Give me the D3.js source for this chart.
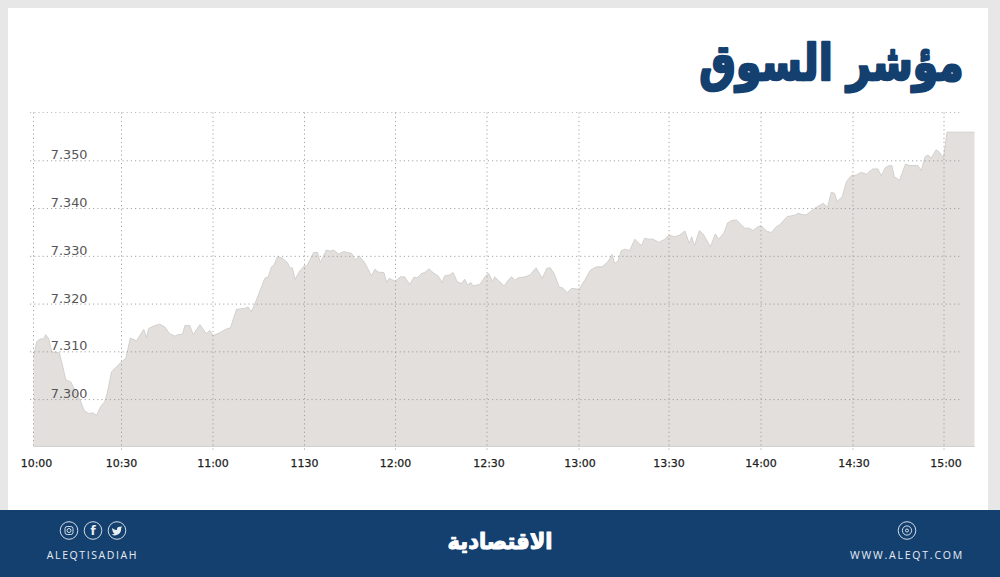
<!DOCTYPE html>
<html><head><meta charset="utf-8">
<script src="https://cdn.jsdelivr.net/npm/d3@7/dist/d3.min.js"></script>
<style>html,body{margin:0;padding:0;background:#e7e7e7;overflow:hidden}svg{display:block}</style>
</head><body><svg id="c" width="1000" height="577"></svg>
<script>
const titleText = "مؤشر السوق";
const logoText = "الاقتصادية";
const handleText = "ALEQTISADIAH";
const siteText = "WWW.ALEQT.COM";
const xTickMinutes = [0,30,60,90,120,150,180,210,240,270,300];
const xTickLabels = ["10:00","10:30","11:00","1130","12:00","12:30","13:00","13:30","14:00","14:30","15:00"];
const yTicks = [7.30,7.31,7.32,7.33,7.34,7.35];
const minutes = [0,1.1,2.3,3.4,4.2,5.2,6.2,8.8,10,11,12.7,15,15.9,17.2,18.7,20.4,21.5,22.9,24.3,25.1,26.6,28.3,30,31.4,32.9,34.9,37.3,38.2,38.9,40.9,42.5,44.2,45.8,47.5,48.5,50,50.8,52.4,53.5,55.7,57.8,58.9,60,62.2,64.4,65.7,67.7,70.4,71.5,72.6,74.2,77,78.1,79.2,80,81.1,82.5,84.4,85.3,86,86.9,88.5,89.9,90.8,93,94.3,95.2,97.2,98.5,99.6,101.2,102.9,105.6,106.7,108,110,112.1,113.2,114.3,116.2,117.1,117.9,119.2,120,121.6,123,124.7,126,127.1,128.5,129.6,131,132.3,134,135.3,136.1,137.8,138.9,140.2,141.6,142.7,143.6,144.7,145.4,147.6,149.8,150.6,151.8,152.5,153.6,155.6,156.9,158,159.1,160.2,162.4,164,166,168,169.5,170.6,171.9,173.6,174.6,176.2,177.6,180,181.9,183.8,185.8,187.7,189.7,191,191.9,193,194.1,195.2,196.9,198.6,200.8,201.9,203,204.7,206.6,208.6,210,212,213.6,215.2,216.6,217.4,218.3,219.9,221.3,223.5,225.1,226.2,228,229.1,230.5,232,234.7,236.1,237.4,239,240,242,243.4,245,246.1,248.5,251,252.1,253.7,254.8,257.6,260.3,261.7,262.9,264,264.8,266.5,267.9,269.5,271,272.7,274.4,276.5,278.2,279.3,280.7,282,282.8,283.6,285.3,287.3,288.6,291.4,292.5,293.8,294.7,295.8,297.4,298.5,299.8,301,310];
const values = [7.3090,7.3121,7.3127,7.3127,7.3136,7.3127,7.3100,7.3098,7.3069,7.3041,7.3037,7.3009,7.2999,7.2978,7.2971,7.2972,7.2967,7.2985,7.2996,7.3013,7.3058,7.3069,7.3079,7.3086,7.3129,7.3123,7.3147,7.3130,7.3149,7.3155,7.3158,7.3152,7.3138,7.3133,7.3136,7.3137,7.3155,7.3155,7.3136,7.3157,7.3138,7.3145,7.3134,7.3140,7.3148,7.3150,7.3189,7.3191,7.3194,7.3184,7.3208,7.3254,7.3257,7.3278,7.3282,7.3299,7.3297,7.3287,7.3275,7.3276,7.3252,7.3270,7.3280,7.3280,7.3308,7.3308,7.3287,7.3313,7.3311,7.3313,7.3305,7.3310,7.3306,7.3292,7.3301,7.3285,7.3259,7.3273,7.3267,7.3266,7.3245,7.3254,7.3250,7.3248,7.3257,7.3257,7.3241,7.3256,7.3255,7.3264,7.3266,7.3274,7.3266,7.3259,7.3245,7.3259,7.3261,7.3266,7.3247,7.3243,7.3252,7.3240,7.3245,7.3238,7.3241,7.3261,7.3264,7.3247,7.3257,7.3250,7.3238,7.3250,7.3257,7.3250,7.3255,7.3257,7.3261,7.3276,7.3254,7.3275,7.3276,7.3264,7.3235,7.3234,7.3224,7.3233,7.3231,7.3250,7.3271,7.3278,7.3278,7.3289,7.3304,7.3285,7.3290,7.3312,7.3315,7.3312,7.3336,7.3322,7.3338,7.3336,7.3336,7.3329,7.3336,7.3344,7.3341,7.3345,7.3353,7.3327,7.3341,7.3322,7.3354,7.3345,7.3320,7.3347,7.3336,7.3350,7.3370,7.3375,7.3376,7.3359,7.3359,7.3354,7.3362,7.3364,7.3352,7.3350,7.3362,7.3366,7.3383,7.3386,7.3390,7.3387,7.3387,7.3401,7.3411,7.3403,7.3434,7.3432,7.3415,7.3425,7.3457,7.3469,7.3470,7.3476,7.3472,7.3483,7.3483,7.3469,7.3486,7.3490,7.3490,7.3467,7.3459,7.3493,7.3490,7.3490,7.3480,7.3509,7.3512,7.3506,7.3523,7.3518,7.3506,7.3560,7.3560];
const baseValue = 7.2902;

const svg = d3.select("#c");
svg.append("rect").attr("width",1000).attr("height",577).attr("fill","#e7e7e7");
svg.append("rect").attr("x",8).attr("y",8).attr("width",980).attr("height",502).attr("fill","#fff");

const x = d3.scaleLinear().domain([...xTickMinutes,310])
  .range([33.5,121.5,213,304.5,395.5,487,579,669,761,853,944,974.5]);
const y = d3.scaleLinear().domain([7.30,7.35]).range([399.6,160.8]);

const area = d3.area().x((d,i)=>x(minutes[i])).y0(y(baseValue)).y1((d)=>y(d));
svg.append("path").attr("d",area(values)).attr("fill","#e2dfdd");
const line = d3.line().x((d,i)=>x(minutes[i])).y(d=>y(d));
svg.append("path").attr("d",line(values)).attr("fill","none").attr("stroke","#cbc9c7").attr("stroke-width",0.8);
svg.append("line").attr("x1",x(0)).attr("x2",x(310)).attr("y1",y(baseValue)).attr("y2",y(baseValue)).attr("stroke","#cfcdcb").attr("stroke-width",1);

const grid = svg.append("g").attr("fill","none").attr("stroke","#9a9a9a").attr("stroke-width",0.9).attr("stroke-dasharray","1.2 3");
grid.append("line").attr("x1",30).attr("x2",962).attr("y1",112.5).attr("y2",112.5).attr("stroke-opacity",.7);
yTicks.forEach(v=>grid.append("line").attr("x1",30).attr("x2",962).attr("y1",y(v)).attr("y2",y(v)));
xTickMinutes.forEach((m,i)=>grid.append("line").attr("x1",x(m)).attr("x2",x(m)).attr("y1",112.5).attr("y2",i===0?y(baseValue):451));

const font = "'DejaVu Sans',sans-serif";
svg.append("g").selectAll("text").data(yTicks).join("text")
  .attr("x",87.5).attr("y",d=>y(d)-1.5).attr("text-anchor","end")
  .attr("font-family",font).attr("font-size",12.8).attr("fill","#555")
  .text(d=>d3.format(".3f")(d));
svg.append("g").selectAll("text").data(xTickLabels).join("text")
  .attr("x",(d,i)=>x(xTickMinutes[i])+[3,0,0,0,0,2,1,0,0,1,2][i]).attr("y",467).attr("text-anchor","middle")
  .attr("font-family",font).attr("font-size",11).attr("font-weight",500).attr("fill","#222")
  .attr("stroke","#222").attr("stroke-width",0.25)
  .text(d=>d);

// Arabic wordmarks: fitted to the reference's width by a transform
function fitted(text,right,base,width,size,sy,sw,fill){
  const g = svg.append("g");
  const t = g.append("text").attr("text-anchor","middle").attr("font-family",font).attr("font-weight",700)
    .attr("font-size",size).attr("fill",fill).attr("stroke",fill).attr("stroke-width",sw)
    .attr("stroke-linejoin","round").text(text);
  const w = t.node().getComputedTextLength();
  const sx = (width-sw)/w;
  g.attr("transform",`translate(${right-width/2},${base}) scale(${sx},${sy})`);
}
fitted(titleText,965,80,267,50,1,2.6,"#14406f");

svg.append("rect").attr("x",0).attr("y",510).attr("width",1000).attr("height",67).attr("fill","#14406f");
fitted(logoText,553,549,106,23,1,1.1,"#fff");

const footFont = "'Open Sans',sans-serif";
svg.append("text").attr("x",92.5).attr("y",559).attr("text-anchor","middle").attr("font-family",footFont)
  .attr("font-size",10.5).attr("letter-spacing",1.6).attr("fill","#e8edf3").text(handleText);
svg.append("text").attr("x",907).attr("y",559).attr("text-anchor","middle").attr("font-family",footFont)
  .attr("font-size",10.5).attr("letter-spacing",1.8).attr("fill","#e8edf3").text(siteText);

const icons = svg.append("g").attr("fill","none").attr("stroke","#e8edf3").attr("stroke-width",.9);
[[69,"ig"],[93,"f"],[117,"t"],[907,"w"]].forEach(([cx,k])=>{
  icons.append("circle").attr("cx",cx).attr("cy",530.5).attr("r",8.8);
  if(k==="ig"){icons.append("rect").attr("x",cx-4).attr("y",526.5).attr("width",8).attr("height",8).attr("rx",2.2);icons.append("circle").attr("cx",cx).attr("cy",530.5).attr("r",2);}
  if(k==="f"){svg.append("text").attr("x",cx).attr("y",535).attr("text-anchor","middle").attr("font-family",font).attr("font-weight",700).attr("font-size",12).attr("fill","#e8edf3").text("f");}
  if(k==="t"){icons.append("path").attr("fill","#e8edf3").attr("stroke","none").attr("d",`M${cx-5} ${528} q2.5 2.2 5 2 q-.3 -3.4 3 -3.2 l2.2 -.4 l-1 1.7 q.2 6 -5.2 7.2 q-2.5 .5 -4.5 -.8 q2 .1 3 -1 q-2 -.6 -2.5 -5.5z`);}
  if(k==="w"){icons.append("circle").attr("cx",cx).attr("cy",530.5).attr("r",4.6);icons.append("circle").attr("cx",cx).attr("cy",530.5).attr("r",1.5);}
});
</script></body></html>
